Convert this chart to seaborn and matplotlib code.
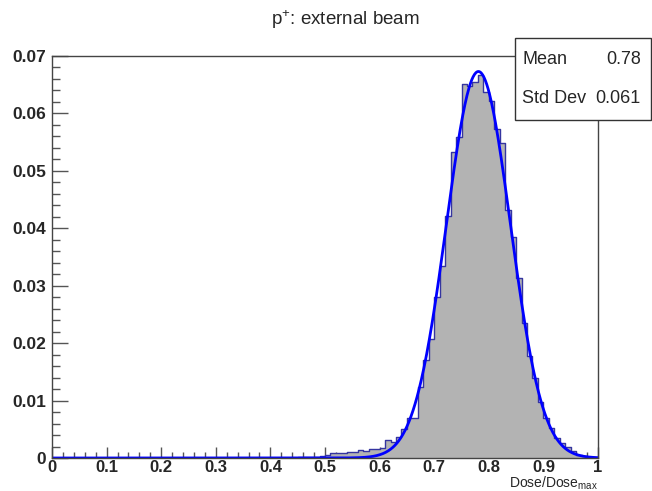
import numpy as np
import pandas as pd
import matplotlib
matplotlib.use("Agg")
import matplotlib.pyplot as plt
import seaborn as sns

# ---- data ----
bin_edges = [i / 100 for i in range(101)]
bin_centers = [(i + 0.5) / 100 for i in range(100)]
bin_heights = (
    [0.0] * 45
    + [0.0001, 0.0001, 0.0002, 0.0002, 0.0003]
    + [0.0006, 0.0009, 0.0008, 0.0008, 0.0011, 0.0011, 0.0014, 0.0012, 0.0015, 0.0016]
    + [0.0018, 0.0032, 0.0027, 0.0036, 0.0050, 0.0070, 0.0069, 0.0123, 0.0171, 0.0207]
    + [0.0280, 0.0334, 0.0421, 0.0533, 0.0559, 0.0651, 0.0648, 0.0655, 0.0667, 0.0637]
    + [0.0622, 0.0573, 0.0548, 0.0431, 0.0385, 0.0313, 0.0235, 0.0177, 0.0139, 0.0098]
    + [0.0070, 0.0052, 0.0035, 0.0026, 0.0019, 0.0012, 0.0006, 0.0003, 0.0001, 0.0]
)
fit_constant = 0.0673
fit_mean = 0.781
fit_sigma = 0.0585
stat_labels = ["Mean", "Std Dev"]
stat_values = ["0.78", "0.061"]
x_ticks = [0, 0.1, 0.2, 0.3, 0.4, 0.5, 0.6, 0.7, 0.8, 0.9, 1.0]
x_tick_labels = ["0", "0.1", "0.2", "0.3", "0.4", "0.5", "0.6", "0.7", "0.8", "0.9", "1"]
y_ticks = [0, 0.01, 0.02, 0.03, 0.04, 0.05, 0.06, 0.07]
y_tick_labels = ["0", "0.01", "0.02", "0.03", "0.04", "0.05", "0.06", "0.07"]
title = "p$^{+}$: external beam"
x_label = "Dose/Dose$_{\\mathregular{max}}$"

# ---- style ----
sns.set_style("white")
plt.rcParams["font.family"] = ["Liberation Sans", "DejaVu Sans"]
plt.rcParams["mathtext.fontset"] = "custom"
plt.rcParams["mathtext.rm"] = "Liberation Sans"
plt.rcParams["mathtext.it"] = "Liberation Sans:italic"
plt.rcParams["mathtext.bf"] = "Liberation Sans:bold"

fig = plt.figure(figsize=(6.52, 4.91), dpi=100)
ax = fig.add_axes([52 / 652, 1 - 458 / 491, (598 - 52) / 652, (458 - 56) / 491])

df = pd.DataFrame({"x": bin_centers, "w": bin_heights})
sns.histplot(data=df, x="x", weights="w", bins=bin_edges, element="step",
             fill=True, color="#b3b3b3", alpha=1.0, linewidth=0, ax=ax)
sns.histplot(data=df, x="x", weights="w", bins=bin_edges, element="step",
             fill=False, color="#3535a0", linewidth=1.0, ax=ax)

xf = np.linspace(0, 1, 801)
yf = fit_constant * np.exp(-0.5 * ((xf - fit_mean) / fit_sigma) ** 2)
sns.lineplot(x=xf, y=yf, color="#0000ff", linewidth=2.0, ax=ax)

ax.set_xlim(0, 1)
ax.set_ylim(0, 0.07)
ax.set_xticks(x_ticks)
ax.set_xticklabels(x_tick_labels, fontweight="bold", fontsize=12)
ax.set_yticks(y_ticks)
ax.set_yticklabels(y_tick_labels, fontweight="bold", fontsize=12.5)
ax.set_xticks(np.arange(0, 1.0001, 0.02), minor=True)
ax.set_yticks(np.arange(0, 0.07001, 0.002), minor=True)
ax.tick_params(axis="y", which="major", direction="in", length=11.5, width=1,
               color="#555555", pad=4, left=True, right=False)
ax.tick_params(axis="y", which="minor", direction="in", length=5.8, width=1,
               color="#555555", left=True, right=False)
ax.tick_params(axis="x", which="major", direction="in", length=8, width=1,
               color="#555555", pad=1.5, bottom=True, top=False)
ax.tick_params(axis="x", which="minor", direction="in", length=4, width=1,
               color="#555555", bottom=True, top=False)
ax.set_ylabel("")
ax.set_xlabel("")
for s in ax.spines.values():
    s.set_color("#444444")
    s.set_linewidth(1.0)

fig.text(598 / 652, 1 - 488 / 491, x_label, ha="right", va="baseline", fontsize=10)
fig.text(345 / 652, 1 - 20 / 491, title, ha="center", va="center", fontsize=13.5)

# stats box
box = plt.Rectangle((515 / 652, 1 - 120 / 491), (651 - 515) / 652, (120 - 38) / 491,
                    transform=fig.transFigure, facecolor="white", edgecolor="#333333",
                    linewidth=1.0, zorder=5)
fig.patches.append(box)
for i, (lab, val) in enumerate(zip(stat_labels, stat_values)):
    yy = 1 - (60 + 38 * i) / 491
    fig.text(522 / 652, yy, lab, ha="left", va="center", fontsize=13, zorder=6)
    fig.text(641 / 652, yy, val, ha="right", va="center", fontsize=13, zorder=6)

fig.savefig("out.png", dpi=100)
